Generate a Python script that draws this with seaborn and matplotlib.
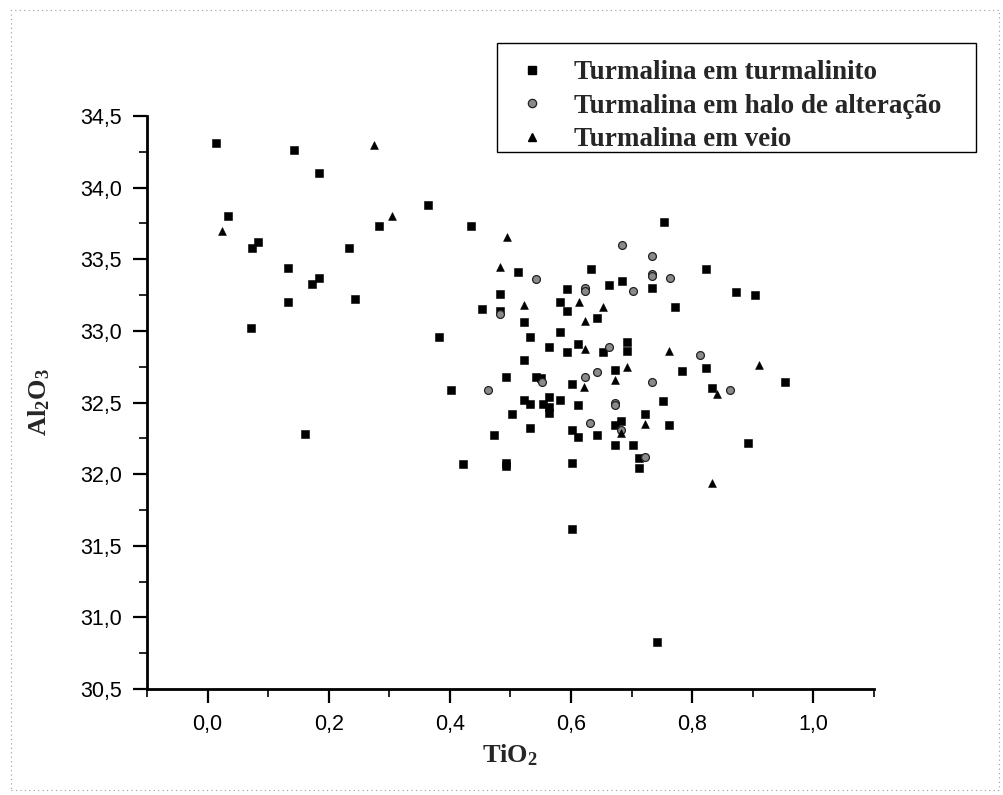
import matplotlib
matplotlib.use("Agg")
import matplotlib.pyplot as plt
from matplotlib.lines import Line2D
from matplotlib.patches import Rectangle
from matplotlib.ticker import MultipleLocator, FuncFormatter
import seaborn as sns
import pandas as pd

# TiO2 / Al2O3 contents (wt%) of tourmaline by host setting
turmalinito_tio2 = [0.014, 0.143, 0.184, 0.034, 0.083, 0.073, 0.133, 0.184, 0.172, 0.133,
                    0.072, 0.244, 0.233, 0.283, 0.364, 0.434, 0.453, 0.382, 0.161,
                    0.513, 0.593, 0.582, 0.483, 0.483, 0.523, 0.533, 0.582, 0.563, 0.593,
                    0.612, 0.523, 0.493, 0.542, 0.550, 0.602, 0.402, 0.523, 0.533, 0.554,
                    0.563, 0.563, 0.563, 0.582, 0.612, 0.503, 0.533, 0.602, 0.473, 0.612,
                    0.422, 0.492, 0.492, 0.602, 0.602,
                    0.633, 0.823, 0.684, 0.663, 0.734, 0.873, 0.903, 0.772, 0.593, 0.643,
                    0.653, 0.693, 0.693, 0.783, 0.822, 0.672, 0.833, 0.752, 0.722, 0.672,
                    0.682, 0.762, 0.642, 0.672, 0.703, 0.712, 0.712, 0.892, 0.953, 0.754,
                    0.741]
turmalinito_al2o3 = [34.31, 34.26, 34.10, 33.80, 33.62, 33.58, 33.44, 33.37, 33.33, 33.20,
                     33.02, 33.22, 33.58, 33.73, 33.88, 33.73, 33.15, 32.96, 32.28,
                     33.41, 33.29, 33.20, 33.26, 33.14, 33.06, 32.96, 32.99, 32.89, 32.85,
                     32.91, 32.80, 32.68, 32.68, 32.67, 32.63, 32.59, 32.52, 32.49, 32.49,
                     32.54, 32.47, 32.43, 32.52, 32.48, 32.42, 32.32, 32.31, 32.27, 32.26,
                     32.07, 32.06, 32.08, 32.08, 31.62,
                     33.43, 33.43, 33.35, 33.32, 33.30, 33.27, 33.25, 33.17, 33.14, 33.09,
                     32.85, 32.92, 32.86, 32.72, 32.74, 32.73, 32.60, 32.51, 32.42, 32.34,
                     32.37, 32.34, 32.27, 32.20, 32.20, 32.11, 32.04, 32.22, 32.64, 33.76,
                     30.83]

halo_tio2 = [0.542, 0.483, 0.552, 0.463, 0.684, 0.734, 0.734, 0.734, 0.764, 0.623, 0.623,
             0.703, 0.663, 0.812, 0.623, 0.643, 0.733, 0.863, 0.672, 0.672, 0.632, 0.682,
             0.722]
halo_al2o3 = [33.36, 33.12, 32.64, 32.59, 33.60, 33.52, 33.40, 33.38, 33.37, 33.30, 33.28,
              33.28, 32.89, 32.83, 32.68, 32.71, 32.64, 32.59, 32.50, 32.48, 32.36, 32.31,
              32.12]

veio_tio2 = [0.275, 0.024, 0.304, 0.495, 0.483, 0.613, 0.523, 0.653, 0.623, 0.623, 0.762,
             0.911, 0.693, 0.672, 0.622, 0.841, 0.722, 0.682, 0.833]
veio_al2o3 = [34.30, 33.70, 33.80, 33.655, 33.446, 33.20, 33.18, 33.17, 33.07, 32.87, 32.86,
              32.76, 32.75, 32.66, 32.61, 32.56, 32.35, 32.29, 31.94]

series_labels = ["Turmalina em turmalinito",
                 "Turmalina em halo de alteração",
                 "Turmalina em veio"]

sns.set_theme(style="white")
plt.rcParams["font.family"] = ["Liberation Sans", "DejaVu Sans"]
plt.rcParams["mathtext.fontset"] = "custom"
plt.rcParams["mathtext.rm"] = "Liberation Serif:bold"
plt.rcParams["mathtext.it"] = "Liberation Serif:bold"
plt.rcParams["mathtext.bf"] = "Liberation Serif:bold"

W, H = 1004, 795
fig = plt.figure(figsize=(W / 100, H / 100), dpi=100)
fig.patch.set_facecolor("white")
ax = fig.add_axes([147 / W, 1 - 689 / H, 727 / W, 573 / H])

df_t = pd.DataFrame({"TiO2": turmalinito_tio2, "Al2O3": turmalinito_al2o3})
df_h = pd.DataFrame({"TiO2": halo_tio2, "Al2O3": halo_al2o3})
df_v = pd.DataFrame({"TiO2": veio_tio2, "Al2O3": veio_al2o3})

sns.scatterplot(data=df_t, x="TiO2", y="Al2O3", ax=ax, marker="s", s=28,
                color="black", edgecolor="black", linewidth=0.4, zorder=3)
sns.scatterplot(data=df_h, x="TiO2", y="Al2O3", ax=ax, marker="o", s=32,
                color="#8a8a8a", edgecolor="#222222", linewidth=0.9, zorder=4)
sns.scatterplot(data=df_v, x="TiO2", y="Al2O3", ax=ax, marker="^", s=32,
                color="black", edgecolor="black", linewidth=0.4, zorder=5)

ax.set_xlim(-0.1, 1.1)
ax.set_ylim(30.5, 34.5)
ax.xaxis.set_major_locator(MultipleLocator(0.2))
ax.xaxis.set_minor_locator(MultipleLocator(0.1))
ax.yaxis.set_major_locator(MultipleLocator(0.5))
ax.yaxis.set_minor_locator(MultipleLocator(0.25))
comma = FuncFormatter(lambda v, p: f"{v:.1f}".replace(".", ","))
ax.xaxis.set_major_formatter(comma)
ax.yaxis.set_major_formatter(comma)

for side in ("top", "right"):
    ax.spines[side].set_visible(False)
for side in ("left", "bottom"):
    ax.spines[side].set_linewidth(2.0)
    ax.spines[side].set_color("black")

ax.tick_params(which="major", direction="out", length=10, width=1.6,
               labelsize=15.5, pad=8, colors="black", bottom=True, left=True)
ax.tick_params(which="minor", direction="out", length=6, width=1.4,
               bottom=True, left=True)
ax.grid(False)

ax.set_xlabel(r"$\mathrm{TiO_2}$", fontsize=19, labelpad=5)
ax.set_ylabel(r"$\mathrm{Al_2O_3}$", fontsize=19, labelpad=20)

# legend
handles = [
    Line2D([], [], linestyle="none", marker="s", markersize=5.5,
           markerfacecolor="black", markeredgecolor="black"),
    Line2D([], [], linestyle="none", marker="o", markersize=6,
           markerfacecolor="#8a8a8a", markeredgecolor="#222222", markeredgewidth=0.9),
    Line2D([], [], linestyle="none", marker="^", markersize=6,
           markerfacecolor="black", markeredgecolor="black"),
]
fig.patches.append(Rectangle((497 / W, 1 - 152 / H), 479 / W, 109 / H,
                             transform=fig.transFigure, fill=False,
                             edgecolor="black", linewidth=1.0, zorder=10))
leg = fig.legend(handles, series_labels, loc="upper left",
                 bbox_to_anchor=(506 / W, 1 - 60 / H), frameon=False,
                 prop={"family": "Liberation Serif", "weight": "bold", "size": 19.5},
                 handlelength=1.9, handletextpad=0.6, labelspacing=0.32,
                 borderpad=0, borderaxespad=0)

# faint dotted frame around the sheet
fig.patches.append(Rectangle((11 / W, 1 - 790 / H), 988 / W, 780 / H,
                             transform=fig.transFigure, fill=False,
                             edgecolor="#9a9a9a", linewidth=0.8, linestyle=(0, (1, 3))))

fig.savefig("out.png", dpi=100)
